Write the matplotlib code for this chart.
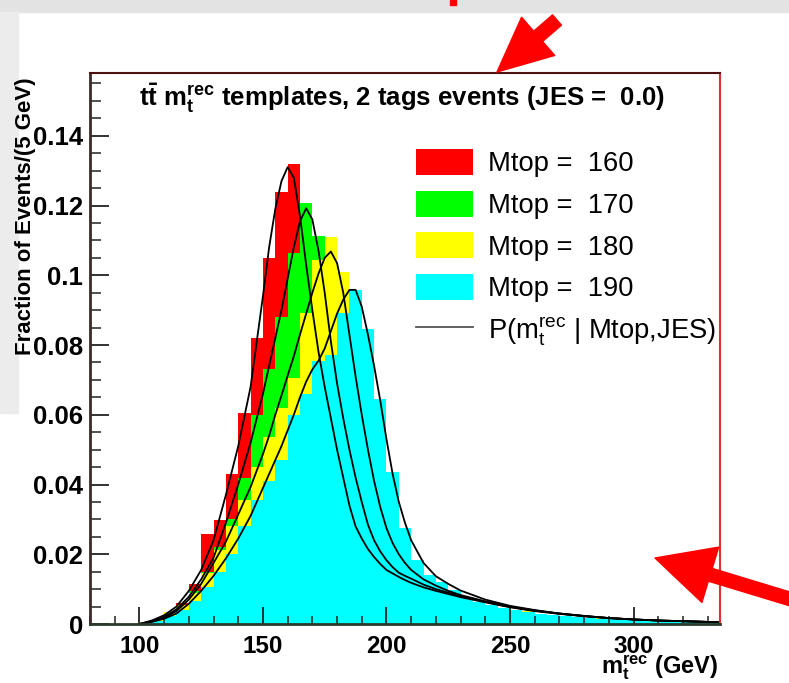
import numpy as np
import matplotlib
matplotlib.use("Agg")
import matplotlib.pyplot as plt
from matplotlib.patches import Patch, Rectangle
from matplotlib.lines import Line2D
from matplotlib.ticker import MultipleLocator

plt.rcParams['font.family'] = ['Liberation Sans', 'DejaVu Sans']
plt.rcParams['mathtext.fontset'] = 'custom'
plt.rcParams['mathtext.rm'] = 'Liberation Sans'
plt.rcParams['mathtext.bf'] = 'Liberation Sans:bold'
plt.rcParams['mathtext.it'] = 'Liberation Sans:italic'

# bin edges, 5 GeV bins
edges = np.arange(80, 340, 5)

# template histograms (fraction of events per bin), bins starting at 80 GeV
h160 = [0, 0, 0, 0,
        0.0003, 0.001, 0.003, 0.006, 0.0114, 0.0257, 0.0298, 0.043, 0.0605, 0.082,
        0.105, 0.124, 0.132, 0.112, 0.085, 0.062, 0.045, 0.032, 0.024, 0.018,
        0.014, 0.012, 0.010, 0.009, 0.008, 0.007, 0.0062, 0.0055, 0.005, 0.0045,
        0.0038, 0.0033, 0.0028, 0.0024, 0.002, 0.0018, 0.0015, 0.0013, 0.0011, 0.001,
        0.0009, 0.0007, 0.0006, 0.0005, 0.0004, 0.0004, 0.0003]
h170 = [0, 0, 0, 0,
        0.0002, 0.001, 0.0028, 0.005, 0.0095, 0.015, 0.022, 0.030, 0.042, 0.060,
        0.073, 0.088, 0.1064, 0.1207, 0.1113, 0.095, 0.075, 0.058, 0.045, 0.034,
        0.025, 0.019, 0.015, 0.012, 0.010, 0.0088, 0.0075, 0.0062, 0.0053, 0.0046,
        0.004, 0.0035, 0.003, 0.0026, 0.0023, 0.002, 0.0018, 0.0016, 0.0015, 0.0013,
        0.0011, 0.0009, 0.0008, 0.0007, 0.0006, 0.0005, 0.0004]
h180 = [0, 0, 0, 0,
        0.0002, 0.0012, 0.0035, 0.0055, 0.009, 0.0146, 0.0212, 0.028, 0.0356, 0.045,
        0.0537, 0.0619, 0.0705, 0.0892, 0.1044, 0.111, 0.1008, 0.085, 0.065, 0.045,
        0.032, 0.023, 0.017, 0.013, 0.011, 0.009, 0.0075, 0.0063, 0.0054, 0.0046,
        0.004, 0.0036, 0.003, 0.0026, 0.0023, 0.0021, 0.0018, 0.0016, 0.0014, 0.0013,
        0.0011, 0.001, 0.0008, 0.0007, 0.0006, 0.0006, 0.0005]
h190 = [0, 0, 0, 0,
        0.0002, 0.0008, 0.0022, 0.004, 0.0065, 0.0105, 0.015, 0.020, 0.028, 0.0356,
        0.041, 0.047, 0.060, 0.066, 0.0755, 0.077, 0.0892, 0.0958, 0.0846, 0.0645,
        0.0437, 0.0275, 0.0184, 0.0141, 0.0121, 0.0098, 0.0078, 0.0064, 0.0055, 0.0047,
        0.004, 0.0034, 0.003, 0.0026, 0.0022, 0.002, 0.0017, 0.0015, 0.0013, 0.0012,
        0.001, 0.0009, 0.0008, 0.0007, 0.0006, 0.0005, 0.0004]

# parametrised P(m_t^rec | Mtop, JES) curves, read at these masses
cx = [100, 105, 110, 115, 120, 125, 130, 135, 140, 145, 150,
      152.5, 155, 157.5, 160, 162.5, 165, 167.5, 170, 172.5, 175, 177.5, 180,
      182.5, 185, 187.5, 190, 192.5, 195, 197.5, 200, 202.5, 205, 207.5, 210,
      215, 220, 225, 230, 240, 250, 260, 270, 280, 290, 300, 310, 320, 335]
c160 = [0, 0.001, 0.0025, 0.005, 0.0095, 0.0155, 0.024, 0.037, 0.051, 0.068, 0.094,
        0.108, 0.119, 0.127, 0.131, 0.128, 0.117, 0.103, 0.090, 0.078, 0.068, 0.059, 0.050,
        0.042, 0.034, 0.028, 0.0245, 0.0215, 0.0192, 0.0172, 0.0155, 0.0145, 0.0135, 0.0126, 0.0118,
        0.0105, 0.0095, 0.0086, 0.0077, 0.0062, 0.0048, 0.0037, 0.0029, 0.0022, 0.0017, 0.0013, 0.001, 0.0008, 0.0005]
c170 = [0, 0.0008, 0.002, 0.0042, 0.0078, 0.0128, 0.019, 0.029, 0.040, 0.052, 0.066,
        0.074, 0.082, 0.090, 0.099, 0.108, 0.1155, 0.1192, 0.116, 0.107, 0.095, 0.081, 0.069,
        0.059, 0.050, 0.042, 0.035, 0.0285, 0.024, 0.0208, 0.0183, 0.0163, 0.0147, 0.0138, 0.013,
        0.0113, 0.010, 0.009, 0.008, 0.0064, 0.0049, 0.0038, 0.003, 0.0023, 0.0017, 0.0013, 0.001, 0.0008, 0.0005]
c180 = [0, 0.0007, 0.0018, 0.0037, 0.007, 0.0115, 0.0175, 0.0236, 0.0314, 0.0393, 0.0487,
        0.054, 0.060, 0.0655, 0.0712, 0.0768, 0.083, 0.089, 0.095, 0.1005, 0.105, 0.1068, 0.1035,
        0.095, 0.083, 0.071, 0.060, 0.050, 0.041, 0.0335, 0.0275, 0.0232, 0.020, 0.0175, 0.0155,
        0.0128, 0.011, 0.0095, 0.0083, 0.0065, 0.005, 0.0039, 0.003, 0.0023, 0.0017, 0.0013, 0.001, 0.0008, 0.0005]
c190 = [0, 0.0006, 0.0015, 0.003, 0.0058, 0.0095, 0.0138, 0.0188, 0.0245, 0.031, 0.039,
        0.043, 0.047, 0.051, 0.0555, 0.060, 0.065, 0.0695, 0.073, 0.0755, 0.079, 0.084, 0.089,
        0.093, 0.0958, 0.0958, 0.091, 0.083, 0.074, 0.064, 0.053, 0.043, 0.035, 0.029, 0.024,
        0.0175, 0.0137, 0.0115, 0.0096, 0.007, 0.0052, 0.004, 0.003, 0.0023, 0.0017, 0.0013, 0.001, 0.0008, 0.0005]

masses = [160, 170, 180, 190]
hists = [h160, h170, h180, h190]
curves = [c160, c170, c180, c190]
colors = ['#ff0000', '#00ff00', '#ffff00', '#00ffff']

fig = plt.figure(figsize=(7.89, 6.83), dpi=100)
fig.patch.set_facecolor('white')

# slide background bits
fig.patches.append(Rectangle((0, 671), 789, 12, transform=None, color='#e3e3e3', zorder=-2))
fig.patches.append(Rectangle((0, 270), 18, 401, transform=None, color='#ececec', zorder=-2))

ax = fig.add_axes([90 / 789, 1 - 624 / 683, 630 / 789, 551 / 683])

for h, c in zip(hists, colors):
    ax.stairs(h, edges, fill=True, color=c, linewidth=0)
for cv in curves:
    ax.plot(cx, cv, color='black', lw=1.3)

ax.set_xlim(80, 335)
ax.set_ylim(0, 0.158)

ax.xaxis.set_major_locator(MultipleLocator(50))
ax.xaxis.set_minor_locator(MultipleLocator(10))
ax.yaxis.set_major_locator(MultipleLocator(0.02))
ax.yaxis.set_minor_locator(MultipleLocator(0.005))
ax.yaxis.set_major_formatter(plt.FuncFormatter(lambda v, p: '0' if v == 0 else ('%g' % v)))

ax.tick_params(which='both', direction='in', top=False, right=False, color='#222222')
ax.tick_params(axis='x', which='major', length=12, width=1.3, pad=8, labelsize=17.5)
ax.tick_params(axis='x', which='minor', length=6, width=1.1)
ax.tick_params(axis='y', which='major', length=14, width=1.3, pad=5, labelsize=18.5)
ax.tick_params(axis='y', which='minor', length=8, width=1.1)
for lab in ax.get_xticklabels() + ax.get_yticklabels():
    lab.set_fontweight('bold')

ax.spines['left'].set_color('#3a2a2a')
ax.spines['left'].set_linewidth(2)
ax.spines['bottom'].set_color('#2a3a2a')
ax.spines['bottom'].set_linewidth(2)
ax.spines['top'].set_color('#501010')
ax.spines['top'].set_linewidth(1.5)
ax.spines['right'].set_color('#e03030')
ax.spines['right'].set_linewidth(1.5)

ax.text(0.496, 0.955, r'$\mathbf{t\bar{t}}$ $\mathbf{m_{t}^{rec}}$ templates, 2 tags events (JES =  0.0)',
        transform=ax.transAxes, ha='center', va='center', fontsize=18.5, fontweight='bold')
ax.text(0.997, -0.0895, r'$\mathbf{m_{t}^{rec}}$ (GeV)', transform=ax.transAxes,
        ha='right', va='baseline', fontsize=17, fontweight='bold')
ax.text(-0.102, 0.74, 'Fraction of Events/(5 GeV)', transform=ax.transAxes, rotation=90,
        ha='center', va='center', fontsize=16, fontweight='bold')

handles = [Patch(facecolor=c, edgecolor='none') for c in colors]
labels = ['Mtop =  %d' % m for m in masses]
handles.append(Line2D([], [], color='#555555', lw=1.3))
labels.append(r'P($\mathrm{m_{t}^{rec}}$ | Mtop,JES)')
ax.legend(handles, labels, loc='upper left', bbox_to_anchor=(0.517, 0.862),
          frameon=False, fontsize=19.7, handlelength=2.08, handleheight=1.1,
          handletextpad=0.55, labelspacing=0.48, borderpad=0, borderaxespad=0)

# slide arrows
ax.annotate('', xy=(497, 683 - 72), xytext=(557, 683 - 20), xycoords='figure pixels',
            textcoords='figure pixels',
            arrowprops=dict(arrowstyle='simple,head_length=1.4,head_width=1.3,tail_width=0.35',
                            color='red', mutation_scale=28, shrinkA=0, shrinkB=0))
ax.annotate('', xy=(655, 683 - 558), xytext=(800, 683 - 602), xycoords='figure pixels',
            textcoords='figure pixels',
            arrowprops=dict(arrowstyle='simple,head_length=1.3,head_width=1.3,tail_width=0.3',
                            color='red', mutation_scale=32, shrinkA=0, shrinkB=0))
fig.patches.append(Rectangle((450, 678), 6, 5, transform=None, color='red', zorder=3))

fig.savefig('out.png', dpi=100)
